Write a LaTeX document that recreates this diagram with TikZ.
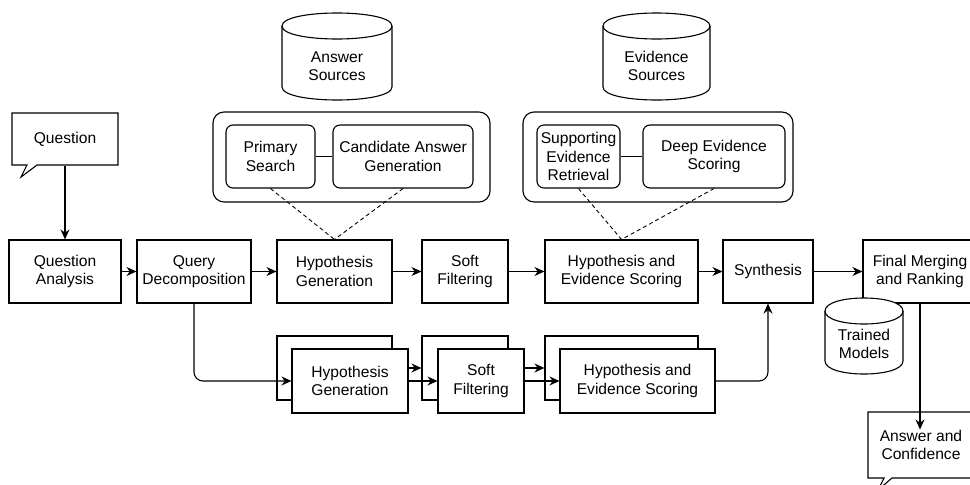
\documentclass[tikz,border=0pt]{standalone}
\usepackage{fontspec}
\setmainfont{Liberation Sans}
\usetikzlibrary{arrows.meta}
\newcommand\mycyl[5]{%
  \filldraw[fill=white] (#1,#3+#5) -- (#1,#4-#5) .. controls (#1,#4+#5/3) and (#2,#4+#5/3) .. (#2,#4-#5) -- (#2,#3+#5) .. controls (#2,#3-#5/3) and (#1,#3-#5/3) .. cycle;
  \draw (#1,#3+#5) .. controls (#1,#3+7*#5/3) and (#2,#3+7*#5/3) .. (#2,#3+#5);}
\begin{document}
\begin{tikzpicture}[x=1pt,y=-1pt,line width=1.1pt,
  every node/.style={font=\fontsize{15.6}{18.5}\selectfont,align=center,inner sep=0pt},
  box/.style={draw,fill=white,minimum height=63pt},
  bbox/.style={draw,fill=white,minimum height=64pt},
  rbox/.style={draw,fill=white,rounded corners=7pt,minimum height=63pt},
  grp/.style={draw,fill=white,rounded corners=11pt,minimum height=90pt},
  arr/.style={-{Stealth[length=10pt,width=9pt]}},
  dsh/.style={dash pattern=on 4pt off 3pt,line width=0.9pt}]
\clip (0,0) rectangle (970,485);
\fill[white] (0,0) rectangle (970,485);
% cylinders top
\mycyl{282}{392}{13}{100}{13}
\node (as) at (337,66) {Answer\\Sources};
\mycyl{603}{710}{13}{100}{13}
\node (es) at (656.5,66) {Evidence\\Sources};
% groups
\node[grp,minimum width=277pt] (g1) at (351.5,157) {};
\node[rbox,minimum width=89pt] (ps) at (270.5,156.5) {Primary\\Search};
\node[rbox,minimum width=140pt] (cag) at (403,156.5) {Candidate Answer\\Generation};
\draw (ps) -- (cag);
\node[grp,minimum width=270pt] (g2) at (658,157) {};
\node[rbox,minimum width=83pt] (ser) at (578.5,156.5) {Supporting\\Evidence\\Retrieval};
\node[rbox,minimum width=142pt] (des) at (714,156.5) {Deep Evidence\\Scoring};
\draw (ser) -- (des);
% question callout
\draw[fill=white] (12,113) -- (118,113) -- (118,165) -- (37,165) -- (21,177) -- (27,165) -- (12,165) -- cycle;
\node[minimum width=106pt,minimum height=52pt] (q) at (65,139) {Question};
% main row
\node[box,minimum width=112pt] (qa) at (65,271.5) {Question\\Analysis};
\node[box,minimum width=114pt] (qd) at (194,271.5) {Query\\Decomposition};
\node[box,minimum width=115pt] (hg) at (334.5,271.5) {Hypothesis\\Generation};
\node[box,minimum width=86pt] (sf) at (465,271.5) {Soft\\Filtering};
\node[box,minimum width=153pt] (hes) at (621.5,271.5) {Hypothesis and\\Evidence Scoring};
\node[box,minimum width=90pt] (syn) at (768,271.5) {Synthesis};
\node[box,minimum width=114pt] (fm) at (920,271.5) {Final Merging\\and Ranking};
\mycyl{825}{903}{298}{374}{13}
\node (tm) at (864,344) {Trained\\Models};
% dashed
\draw[dsh] (ps.south) -- (hg.north);
\draw[dsh] (cag.south) -- (hg.north);
\draw[dsh] (ser.south) -- (hes.north);
\draw[dsh] (des.south) -- (hes.north);
% bottom row
\node[bbox,minimum width=115pt] (hgb) at (334.5,368) {};
\node[bbox,minimum width=116pt] (hgf) at (350,381) {Hypothesis\\Generation};
\node[bbox,minimum width=86pt] (sfb) at (465,368) {};
\node[bbox,minimum width=86pt] (sff) at (481,381) {Soft\\Filtering};
\node[bbox,minimum width=153pt] (hesb) at (621.5,368) {};
\node[bbox,minimum width=155pt] (hesf) at (637.5,381) {Hypothesis and\\Evidence Scoring};
% answer callout
\draw[fill=white] (868,412) -- (976,412) -- (976,478) -- (892,478) -- (878,490) -- (884,478) -- (868,478) -- cycle;
\node (ac) at (921,445) {Answer and\\Confidence};
% arrows
\draw[arr] (q) -- (q |- qa.north);
\draw[arr] (qa) -- (qd);
\draw[arr] (qd) -- (hg);
\draw[arr] (hg) -- (sf);
\draw[arr] (sf) -- (hes);
\draw[arr] (hes) -- (syn);
\draw[arr] (syn) -- (fm);
\draw[arr] (fm.south) -- (fm.south |- ac.north);
\draw[arr,rounded corners=9pt] (qd.south) |- (hgf.west);
\draw[arr] (hgf.east |- hgb) -- (sfb.west);
\draw[arr] (hgf) -- (sff);
\draw[arr] (sff.east |- sfb) -- (hesb.west);
\draw[arr] (sff) -- (hesf);
\draw[arr,rounded corners=9pt] (hesf) -| (syn.south);
\end{tikzpicture}
\end{document}
